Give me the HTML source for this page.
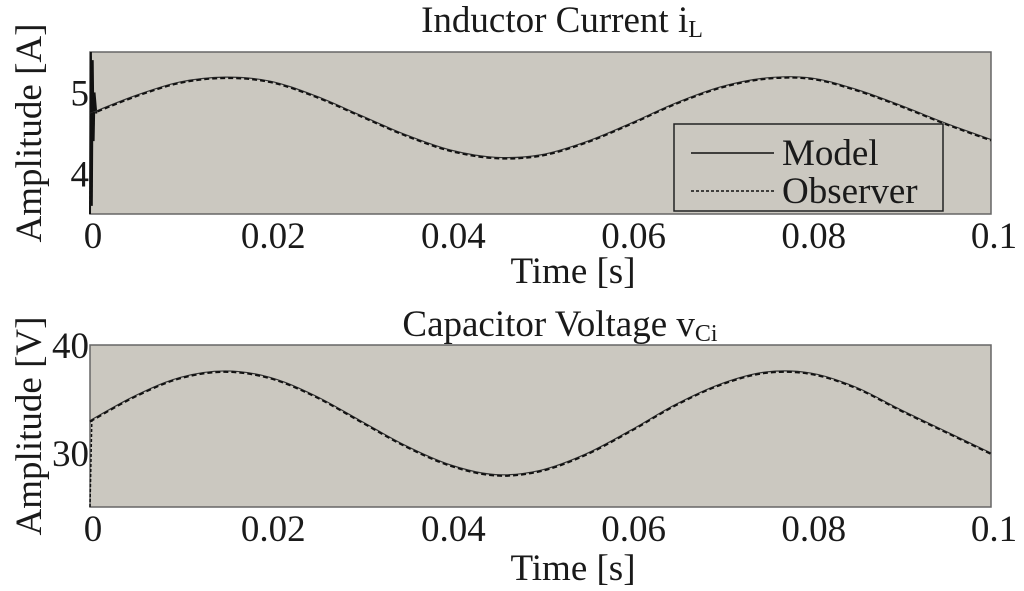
<!DOCTYPE html>
<html><head><meta charset="utf-8"><style>
body{margin:0;background:#fff}
svg{display:block;font-family:"Liberation Serif",serif}
text{fill:#1a1a1a}
</style></head><body>
<svg id="chart" width="1024" height="591" viewBox="0 0 1024 591">
<g id="top">
<rect x="90" y="52" width="901" height="162" fill="#cbc8c0" stroke="#666" stroke-width="1.5"/>
<text x="562" y="32" font-size="37" text-anchor="middle">Inductor Current  i<tspan font-size="24" dy="5">L</tspan></text>
<text x="573" y="283" font-size="37" text-anchor="middle">Time [s]</text>
<text transform="translate(41,133) rotate(-90)" font-size="37" text-anchor="middle">Amplitude [A]</text>
<g id="topTicks"></g>
<g id="topLines"></g>
<g>
<rect x="674" y="124" width="269" height="87" fill="#cbc8c0" stroke="#222" stroke-width="1.5"/>
<line x1="691" y1="153" x2="774" y2="153" stroke="#111" stroke-width="1.5"/>
<text x="782" y="165" font-size="37">Model</text>
<line x1="691" y1="191" x2="774" y2="191" stroke="#111" stroke-width="1.5" stroke-dasharray="3,2"/>
<text x="782" y="203" font-size="37">Observer</text>
</g>
</g>
<g id="bot">
<rect x="90" y="345" width="901" height="162" fill="#cbc8c0" stroke="#666" stroke-width="1.5"/>
<text x="560" y="336" font-size="37" text-anchor="middle">Capacitor Voltage v<tspan font-size="24" dy="5">Ci</tspan></text>
<text x="573" y="580" font-size="37" text-anchor="middle">Time [s]</text>
<text transform="translate(41,426) rotate(-90)" font-size="37" text-anchor="middle">Amplitude [V]</text>
<g id="botTicks"></g>
<g id="botLines"></g>
</g>
</svg>
<script>
const timeS=[0,0.005,0.01,0.015,0.02,0.025,0.03,0.035,0.04,0.045,0.05,0.055,0.06,0.065,0.07,0.075,0.08,0.085,0.09,0.095,0.1];
const iLModel=[4.74,4.96,5.13,5.19,5.14,4.96,4.72,4.48,4.29,4.2,4.23,4.39,4.62,4.87,5.07,5.18,5.18,5.04,4.84,4.62,4.42];
const iLObserver=[4.74,4.96,5.13,5.19,5.14,4.96,4.72,4.48,4.29,4.2,4.23,4.39,4.62,4.87,5.07,5.18,5.18,5.04,4.84,4.62,4.42];
const transientT=[0,0.0001,0.0002,0.0003,0.0004,0.0005,0.0007];
const iLTransientModel=[3.5,5.5,3.6,5.4,4.4,5.0,4.74];
const iLTransientObserver=[3.5,5.45,3.7,5.2,4.5,4.9,4.74];
const vCModel=[33.0,35.3,37.0,37.6,37.0,35.3,33.0,30.7,28.9,28.0,28.4,29.9,32.1,34.5,36.4,37.5,37.4,36.1,34.0,32.0,30.0];
const vCObserver=[33.0,35.3,37.0,37.6,37.0,35.3,33.0,30.7,28.9,28.0,28.4,29.9,32.1,34.5,36.4,37.5,37.4,36.1,34.0,32.0,30.0];
const vCTransientObserver=[25,33.0];
const vCTransientT=[0,0.0002];
const xTicks=[0,0.02,0.04,0.06,0.08,0.1];
const xTickLabels=["0","0.02","0.04","0.06","0.08","0.1"];
const iLTicks=[4,5];
const vCTicks=[30,40];

const NS="http://www.w3.org/2000/svg";
const X=t=>90+t/0.1*901;
const yTop=v=>214-(v-3.5)/2*162;
const yBot=v=>507-(v-25)/15*162;
function mk(tag,attrs,parent){const e=document.createElementNS(NS,tag);for(const k in attrs)e.setAttribute(k,attrs[k]);parent.appendChild(e);return e;}
function smoothPath(pts){let d="M"+pts[0][0]+","+pts[0][1];
 for(let i=0;i<pts.length-1;i++){const p0=pts[i-1]||pts[i],p1=pts[i],p2=pts[i+1],p3=pts[i+2]||p2;
  d+=" C"+(p1[0]+(p2[0]-p0[0])/6)+","+(p1[1]+(p2[1]-p0[1])/6)+" "+(p2[0]-(p3[0]-p1[0])/6)+","+(p2[1]-(p3[1]-p1[1])/6)+" "+p2[0]+","+p2[1];}
 return d;}
function poly(ts,vs,yf){return ts.map((t,i)=>X(t)+","+yf(vs[i])).join(" ");}
function ticks(g,base,yf,vals){
 xTickLabels.forEach((lab,i)=>{const x=X(xTicks[i])+3;
  const t=mk("text",{x:x,y:base+34,"font-size":37,"text-anchor":"middle"},g);t.textContent=lab;
  
  });
 vals.forEach(v=>{const t=mk("text",{x:89,y:yf(v)+13,"font-size":37,"text-anchor":"end"},g);t.textContent=String(v);
  
  });
}
const tg=document.getElementById("topTicks"),bg=document.getElementById("botTicks");
ticks(tg,214,yTop,iLTicks);ticks(bg,507,yBot,vCTicks);

const tl=document.getElementById("topLines"),bl=document.getElementById("botLines");
let e;
e=mk("polyline",{points:poly(transientT,iLTransientModel,yTop),fill:"none",stroke:"#111","stroke-width":2},tl);


e=mk("polyline",{points:poly(transientT,iLTransientObserver,yTop),fill:"none",stroke:"#111","stroke-width":1.5,"stroke-dasharray":"3,2"},tl);


e=mk("path",{d:smoothPath(timeS.map((t,i)=>[X(t),yTop(iLModel[i])])),fill:"none",stroke:"#333","stroke-width":1.2},tl);


e=mk("path",{d:smoothPath(timeS.map((t,i)=>[X(t),yTop(iLObserver[i])+1])),fill:"none",stroke:"#111","stroke-width":2,"stroke-dasharray":"5,3"},tl);


e=mk("polyline",{points:poly(vCTransientT,vCTransientObserver,yBot),fill:"none",stroke:"#111","stroke-width":1.5,"stroke-dasharray":"3,2"},bl);


e=mk("path",{d:smoothPath(timeS.map((t,i)=>[X(t),yBot(vCModel[i])])),fill:"none",stroke:"#333","stroke-width":1.2},bl);


e=mk("path",{d:smoothPath(timeS.map((t,i)=>[X(t),yBot(vCObserver[i])+1])),fill:"none",stroke:"#111","stroke-width":2,"stroke-dasharray":"5,3"},bl);


</script>
</body></html>
